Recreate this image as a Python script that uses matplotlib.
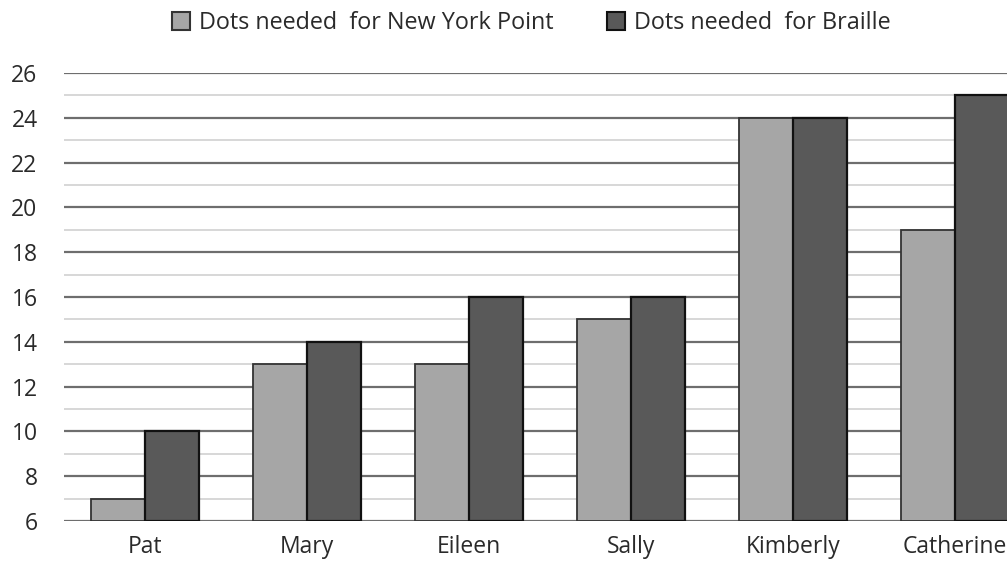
import matplotlib
matplotlib.use("Agg")
import matplotlib.pyplot as plt
import numpy as np
from matplotlib.patches import Patch

categories = ["Pat", "Mary", "Eileen", "Sally", "Kimberly", "Catherine"]
nyp = [7, 13, 13, 15, 24, 19]
braille = [10, 14, 16, 16, 24, 25]
series_names = ["Dots needed  for New York Point", "Dots needed  for Braille"]
yticks = [6, 8, 10, 12, 14, 16, 18, 20, 22, 24, 26]

plt.rcParams['font.family'] = ['Open Sans', 'DejaVu Sans']

fig = plt.figure(figsize=(10.07, 5.65), dpi=100)
W, H = 1007, 565
left, right, top, bottom = 64, 1036, 73, 521
ax = fig.add_axes([left / W, 1 - bottom / H, (right - left) / W, (bottom - top) / H])

x = np.arange(len(categories))
bw = 1 / 3
ax.bar(x - bw / 2, [v - 6 for v in nyp], bw, bottom=6, color="#a6a6a6", edgecolor="#333333", linewidth=1.3, zorder=3)
ax.bar(x + bw / 2, [v - 6 for v in braille], bw, bottom=6, color="#595959", edgecolor="#111111", linewidth=1.6, zorder=3)

ax.set_xlim(-0.5, len(categories) - 0.5)
ax.set_ylim(6, 26)
ax.set_yticks(yticks)
ax.set_yticks(np.arange(7, 26, 2), minor=True)
ax.grid(axis="y", which="major", color="#6e6e6e", linewidth=1.6, zorder=1)
ax.grid(axis="y", which="minor", color="#d4d4d4", linewidth=1.3, zorder=1)
for s in ax.spines.values():
    s.set_visible(False)
ax.set_xticks(x)
ax.set_xticklabels(categories)
ax.tick_params(axis="both", which="both", length=0, labelsize=16.5, colors="#2a2a2a")
ax.tick_params(axis="x", pad=10)
ax.tick_params(axis="y", pad=19)

handles = [Patch(facecolor="#a6a6a6", edgecolor="#333333", linewidth=1.5),
           Patch(facecolor="#595959", edgecolor="#111111", linewidth=1.5)]
fig.legend(handles, series_names, loc="center", bbox_to_anchor=(531 / W, 1 - 23 / H),
           ncol=2, frameon=False, fontsize=16.8, handlelength=0.8, handleheight=0.8,
           handletextpad=0.35, columnspacing=2.3, labelcolor="#2a2a2a",
           borderpad=0, borderaxespad=0)

fig.savefig("out.png", dpi=100)
